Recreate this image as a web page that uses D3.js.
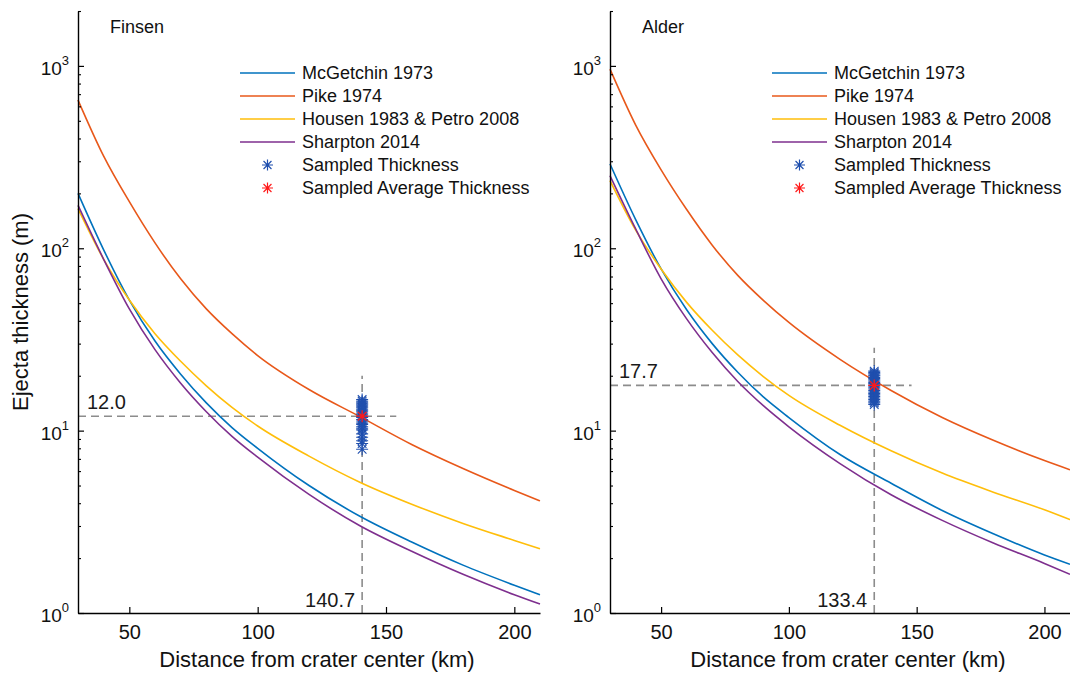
<!DOCTYPE html>
<html>
<head>
<meta charset="utf-8">
<script src="https://cdn.jsdelivr.net/npm/d3@7"></script>
<style>
  body { margin: 0; background: #fff; }
  svg { display: block; font-family: 'Liberation Sans', Arial, sans-serif; }
</style>
</head>
<body>
<svg id="chart" width="1070" height="674"></svg>
<script>
const distKm = [30, 40, 50, 60, 70, 80, 90, 100, 120, 140, 160, 180, 200, 210];

// Finsen ejecta thickness (m)
const finsenMcGetchin = [200, 98, 52, 31, 20.4, 14.2, 10.4, 8.0, 5.0, 3.38, 2.45, 1.83, 1.42, 1.26];
const finsenPike = [650, 320, 180, 107, 68, 46.5, 34, 25.8, 16.8, 11.9, 8.4, 6.2, 4.7, 4.12];
const finsenHousen = [165, 87, 52, 34, 24, 17.6, 13.4, 10.6, 7.25, 5.2, 3.95, 3.1, 2.5, 2.25];
const finsenSharpton = [172, 87, 46.5, 27.8, 18.2, 12.7, 9.3, 7.15, 4.47, 3.0, 2.18, 1.63, 1.26, 1.12];
const finsenSampled = [14.8, 14.5, 14.2, 14.0, 13.8, 13.5, 13.3, 13.0, 12.8, 12.5, 12.3, 12.0, 11.8,
  11.5, 11.3, 11.0, 10.8, 10.5, 10.3, 10.1, 9.6, 9.2, 8.8, 8.5, 7.9];
const finsenDist = 140.7;
const finsenAvg = 12.0;

// Alder ejecta thickness (m)
const alderMcGetchin = [290, 144, 77, 46, 30, 20.9, 15.3, 11.8, 7.4, 5.15, 3.65, 2.72, 2.08, 1.85];
const alderPike = [960, 475, 269, 163, 104, 71, 51.8, 39.2, 24.6, 16.6, 11.8, 8.85, 6.85, 6.1];
const alderHousen = [235, 126, 77, 50.5, 35.5, 26, 19.8, 15.6, 10.7, 7.75, 5.85, 4.6, 3.68, 3.25];
const alderSharpton = [250, 128, 68, 41, 26.8, 18.6, 13.7, 10.5, 6.6, 4.45, 3.22, 2.42, 1.87, 1.63];
const alderSampled = [21.2, 20.8, 20.5, 20.2, 20.0, 19.6, 19.3, 19.0, 18.7, 18.4, 18.1, 17.8, 17.5,
  17.2, 16.9, 16.6, 16.3, 16.0, 15.7, 15.4, 15.1, 14.8, 14.5, 14.2, 13.9];
const alderDist = 133.4;
const alderAvg = 17.7;

const modelNames = ['McGetchin 1973', 'Pike 1974', 'Housen 1983 & Petro 2008', 'Sharpton 2014'];
const modelColors = ['#0072BD', '#E8581A', '#FFBE0A', '#7E2F8E'];
const xTicks = [50, 100, 150, 200];
const yTicks = [1, 10, 100, 1000];
const yMinor = [2, 3, 4, 5, 6, 7, 8, 9, 20, 30, 40, 50, 60, 70, 80, 90, 200, 300, 400, 500, 600, 700, 800, 900, 2000];

const panels = [
  { title: 'Finsen', left: 78, right: 540, models: [finsenMcGetchin, finsenPike, finsenHousen, finsenSharpton],
    sampled: finsenSampled, dist: finsenDist, avg: finsenAvg, hEnd: 154, vTop: 20 },
  { title: 'Alder', left: 610, right: 1070, models: [alderMcGetchin, alderPike, alderHousen, alderSharpton],
    sampled: alderSampled, dist: alderDist, avg: alderAvg, hEnd: 148, vTop: 28.5 }
];

const plotTop = 11, plotBottom = 613;
const svg = d3.select('#chart');

// MATLAB style '*' marker
function starPath(cx, cy, r) {
  const d = r * 0.72;
  return `M${cx - r},${cy}L${cx + r},${cy}M${cx},${cy - r}L${cx},${cy + r}` +
    `M${cx - d},${cy - d}L${cx + d},${cy + d}M${cx - d},${cy + d}L${cx + d},${cy - d}`;
}

panels.forEach((p, pi) => {
  const x = d3.scaleLinear().domain([30, 210]).range([p.left, p.right]);
  const y = d3.scaleLog().domain([1, 2000]).range([plotBottom, plotTop]);
  const g = svg.append('g');

  // dashed guide lines
  g.append('line')
    .attr('x1', x(30)).attr('x2', x(p.hEnd))
    .attr('y1', y(p.avg)).attr('y2', y(p.avg))
    .attr('stroke', '#8c8c8c').attr('stroke-width', 1.6).attr('stroke-dasharray', '8,5');
  g.append('line')
    .attr('x1', x(p.dist)).attr('x2', x(p.dist))
    .attr('y1', y(1)).attr('y2', y(p.vTop))
    .attr('stroke', '#8c8c8c').attr('stroke-width', 1.6).attr('stroke-dasharray', '8,5');

  // model curves
  const line = d3.line()
    .x((d, i) => x(distKm[i]))
    .y(d => y(d))
    .curve(d3.curveMonotoneX);
  p.models.forEach((vals, i) => {
    g.append('path')
      .datum(vals)
      .attr('d', line)
      .attr('fill', 'none')
      .attr('stroke', modelColors[i])
      .attr('stroke-width', 1.6);
  });

  // sampled thickness
  g.selectAll('.samp')
    .data(p.sampled)
    .enter().append('path')
    .attr('class', 'samp')
    .attr('d', d => starPath(x(p.dist), y(d), 6))
    .attr('stroke', '#1F4FAE').attr('stroke-width', 1.1).attr('fill', 'none');
  g.append('path')
    .attr('d', starPath(x(p.dist), y(p.avg), 6))
    .attr('stroke', '#FF1A1A').attr('stroke-width', 1.3).attr('fill', 'none');

  // guide labels
  g.append('text')
    .attr('x', x(30) + 9).attr('y', y(p.avg) - 7)
    .attr('font-size', 20).attr('fill', '#1a1a1a')
    .text(p.avg.toFixed(1));
  g.append('text')
    .attr('x', x(p.dist) - 7).attr('y', y(1) - 6)
    .attr('text-anchor', 'end')
    .attr('font-size', 20).attr('fill', '#1a1a1a')
    .text(p.dist.toFixed(1));

  // axes
  const xAxis = g.append('g')
    .attr('transform', `translate(0,${plotBottom})`)
    .call(d3.axisBottom(x).tickValues(xTicks).tickSizeInner(-6).tickSizeOuter(0).tickPadding(12));
  xAxis.select('.domain').attr('stroke-width', 1.4);
  xAxis.selectAll('.tick line').attr('stroke-width', 1.2);
  xAxis.selectAll('.tick text').attr('font-size', 20).attr('fill', '#111')
    .attr('font-family', "'Liberation Sans', Arial, sans-serif");

  g.append('g')
    .attr('transform', `translate(${p.left},0)`)
    .call(d3.axisLeft(y).tickValues(yMinor).tickSizeInner(-3).tickSizeOuter(0).tickFormat(''))
    .call(a => a.select('.domain').remove())
    .selectAll('.tick line').attr('stroke-width', 1.1);

  const yAxis = g.append('g')
    .attr('transform', `translate(${p.left},0)`)
    .call(d3.axisLeft(y).tickValues(yTicks).tickSizeInner(-6).tickSizeOuter(0).tickFormat(''));
  yAxis.select('.domain').attr('stroke-width', 1.4);
  yAxis.selectAll('.tick line').attr('stroke-width', 1.2);

  yTicks.forEach(v => {
    const t = g.append('text')
      .attr('x', p.left - 9).attr('y', y(v) + 9)
      .attr('text-anchor', 'end').attr('fill', '#111');
    t.append('tspan').attr('font-size', 19).text('10');
    t.append('tspan').attr('font-size', 13).attr('dy', -10).text(Math.round(Math.log10(v)));
  });

  // panel title
  g.append('text')
    .attr('x', p.left + 32).attr('y', 33)
    .attr('font-size', 18).attr('fill', '#111')
    .text(p.title);

  // x label
  g.append('text')
    .attr('x', (p.left + p.right) / 2 + 8).attr('y', 667)
    .attr('text-anchor', 'middle')
    .attr('font-size', 22).attr('fill', '#111')
    .text('Distance from crater center (km)');

  // legend
  const lg = g.append('g').attr('transform', `translate(${p.left + 162},73)`);
  const rowH = 23;
  modelNames.forEach((name, i) => {
    lg.append('line')
      .attr('x1', 0).attr('x2', 55)
      .attr('y1', i * rowH).attr('y2', i * rowH)
      .attr('stroke', modelColors[i]).attr('stroke-width', 1.6);
    lg.append('text')
      .attr('x', 62).attr('y', i * rowH).attr('dy', '0.35em')
      .attr('font-size', 18).attr('fill', '#111')
      .text(name);
  });
  [['Sampled Thickness', '#1F4FAE'], ['Sampled Average Thickness', '#FF1A1A']].forEach((d, j) => {
    const yy = (4 + j) * rowH;
    lg.append('path')
      .attr('d', starPath(27.5, yy, 5.5))
      .attr('stroke', d[1]).attr('stroke-width', 1.2).attr('fill', 'none');
    lg.append('text')
      .attr('x', 62).attr('y', yy).attr('dy', '0.35em')
      .attr('font-size', 18).attr('fill', '#111')
      .text(d[0]);
  });
});

// y label (left panel only)
svg.append('text')
  .attr('transform', 'translate(28,312) rotate(-90)')
  .attr('text-anchor', 'middle')
  .attr('font-size', 22).attr('fill', '#111')
  .text('Ejecta thickness (m)');
</script>
</body>
</html>
